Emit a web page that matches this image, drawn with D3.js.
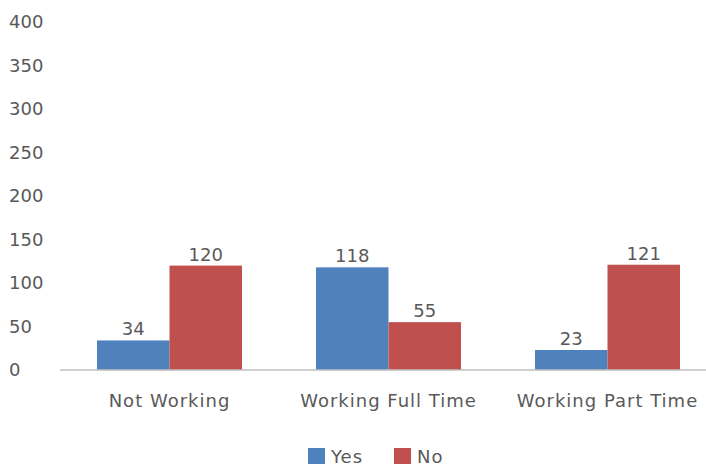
<!DOCTYPE html>
<html>
<head>
<meta charset="utf-8">
<script src="https://cdn.jsdelivr.net/npm/d3@7/dist/d3.min.js"></script>
<style>
  html, body { margin: 0; padding: 0; background: #ffffff; }
  svg text { font-family: "DejaVu Sans", "Open Sans", sans-serif; fill: #595959; }
</style>
</head>
<body>
<svg id="chart" width="706" height="466"></svg>
<script>
// Employment status, split by answer
const categories = ["Not Working", "Working Full Time", "Working Part Time"];
const seriesNames = ["Yes", "No"];
const yesValues = [34, 118, 23];
const noValues = [120, 55, 121];
const yTicks = [0, 50, 100, 150, 200, 250, 300, 350, 400];
const colors = ["#4F81BD", "#C0504D"];
const fontSize = 18;

const svg = d3.select("#chart");

const x = d3.scaleBand().domain(categories).range([60, 717]).paddingInner(0).paddingOuter(0);
const inner = d3.scaleBand().domain(seriesNames).range([x.bandwidth() / 2 - 72.5, x.bandwidth() / 2 + 72.5]);
const y = d3.scaleLinear().domain([0, 400]).range([370, 22]);

// y tick labels, left aligned
svg.append("g").selectAll("text").data(yTicks).join("text")
  .attr("x", 9)
  .attr("y", d => y(d))
  .attr("dy", "0.36em")
  .attr("font-size", fontSize)
  .text(d => d);

// bars
const rows = categories.map((c, i) => ({ cat: c, vals: [yesValues[i], noValues[i]] }));
const groups = svg.append("g").selectAll("g").data(rows).join("g")
  .attr("transform", d => `translate(${x(d.cat)},0)`);

groups.selectAll("rect").data(d => d.vals.map((v, j) => ({ name: seriesNames[j], v, j })))
  .join("rect")
  .attr("x", d => inner(d.name))
  .attr("width", inner.bandwidth())
  .attr("y", d => y(d.v))
  .attr("height", d => y(0) - y(d.v))
  .attr("fill", d => colors[d.j]);

groups.selectAll("text.val").data(d => d.vals.map((v, j) => ({ name: seriesNames[j], v, j })))
  .join("text")
  .attr("class", "val")
  .attr("x", d => inner(d.name) + inner.bandwidth() / 2)
  .attr("y", d => y(d.v) - 5)
  .attr("text-anchor", "middle")
  .attr("font-size", fontSize)
  .text(d => d.v);

// baseline
svg.append("line")
  .attr("x1", 60).attr("x2", 717)
  .attr("y1", y(0)).attr("y2", y(0))
  .attr("stroke", "#bfbfbf").attr("stroke-width", 1.5);

// category labels
svg.append("g").selectAll("text").data(categories).join("text")
  .attr("x", d => x(d) + x.bandwidth() / 2)
  .attr("y", 407)
  .attr("text-anchor", "middle")
  .attr("font-size", fontSize)
  .attr("letter-spacing", 1)
  .text(d => d);

// legend
const legendX = [308, 394];
const legend = svg.append("g").selectAll("g").data(seriesNames).join("g")
  .attr("transform", (d, i) => `translate(${legendX[i]},448)`);
legend.append("rect").attr("width", 17).attr("height", 16).attr("fill", (d, i) => colors[i]);
legend.append("text").attr("x", 23).attr("y", 15).attr("font-size", fontSize)
  .attr("letter-spacing", 1).text(d => d);
</script>
</body>
</html>
